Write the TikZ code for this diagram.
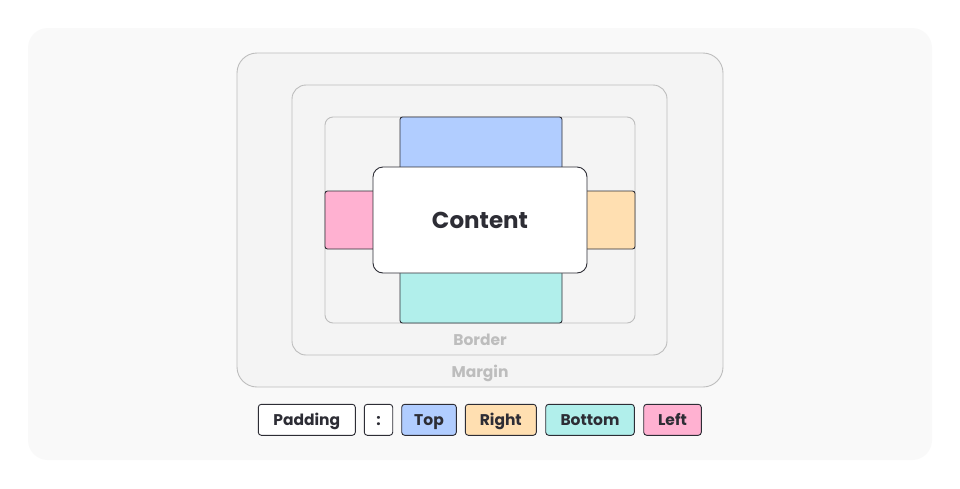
\documentclass[tikz,border=0pt]{standalone}
\usepackage{fontspec}
\setmainfont{Poppins}[BoldFont={* Bold}]
\definecolor{bgc}{HTML}{F9F9F9}
\definecolor{boxc}{HTML}{F4F4F4}
\definecolor{grayline}{HTML}{BDBDBD}
\definecolor{ink}{HTML}{2D2D35}
\definecolor{topc}{HTML}{B1CDFF}
\definecolor{rightc}{HTML}{FFDFB1}
\definecolor{bottomc}{HTML}{B1EFEB}
\definecolor{leftc}{HTML}{FFB1D1}
\tikzset{
  layer/.style={draw=grayline, fill=boxc, line width=0.9pt},
  side/.style={draw=ink, line width=0.9pt, rounded corners=2.5pt},
  legend/.style={draw=ink, line width=0.9pt, rounded corners=3pt, minimum height=31pt, inner sep=0pt, text height=10.8pt, text depth=0pt, text=ink, font=\fontsize{15.5}{18}\selectfont\bfseries},
  caption/.style={text=grayline, text height=10.8pt, text depth=0pt, font=\fontsize{15.5}{18}\selectfont\bfseries},
}
\begin{document}
\begin{tikzpicture}[x=1pt,y=-1pt]
\useasboundingbox (0,0) rectangle (960,488);
\fill[white] (0,0) rectangle (960,488);
\fill[bgc, rounded corners=20pt] (28,28) rectangle (932,460);
% layers
\draw[layer, rounded corners=20pt] (237,53) rectangle (723,387);
\draw[layer, rounded corners=14pt] (292,85) rectangle (667,355);
\draw[layer, rounded corners=8pt] (325,117) rectangle (635,323);
% sides
\draw[side, fill=topc] (400,117) rectangle (562,190);
\draw[side, fill=bottomc] (400,250) rectangle (562,323);
\draw[side, fill=leftc] (325,191) rectangle (400,249);
\draw[side, fill=rightc] (562,191) rectangle (635,249);
% content
\node[draw=ink, fill=white, line width=0.9pt, rounded corners=10pt, minimum width=214pt, minimum height=106pt, inner sep=0pt, text=ink, font=\fontsize{23}{27}\selectfont\bfseries] (content) at (480,220) {Content};
% captions
\node[caption] (border) at (480,340) {Border};
\node[caption] (margin) at (480,372) {Margin};
% legend
\node[legend, fill=white, minimum width=97pt] (lpad) at (306.8,419.8) {Padding};
\node[legend, fill=white, minimum width=28.4pt] (lcolon) at (378.5,419.8) {:};
\node[legend, fill=topc, minimum width=54.6pt] (ltop) at (429,419.8) {Top};
\node[legend, fill=rightc, minimum width=71pt] (lright) at (500.8,419.8) {Right};
\node[legend, fill=bottomc, minimum width=88.6pt] (lbottom) at (590,419.8) {Bottom};
\node[legend, fill=leftc, minimum width=57.6pt] (lleft) at (672.5,419.8) {Left};
\end{tikzpicture}
\end{document}
